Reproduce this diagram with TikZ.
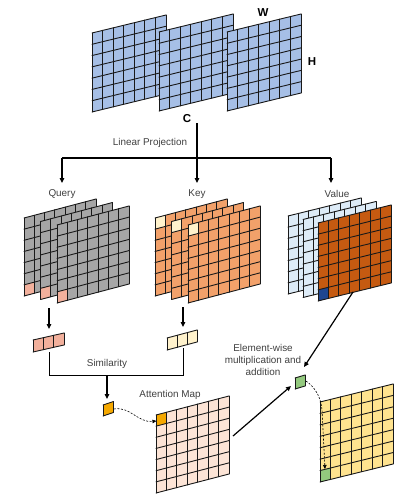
\documentclass[tikz,border=0pt]{standalone}
\usepackage{fontspec}
\setmainfont{Liberation Sans}
\usetikzlibrary{arrows.meta}
\definecolor{gblue}{HTML}{A6BFE6}
\definecolor{ggray}{HTML}{A6A6A6}
\definecolor{gpink}{HTML}{F2B09C}
\definecolor{gorange}{HTML}{F2A16A}
\definecolor{gcream}{HTML}{FFF2CC}
\definecolor{glblue}{HTML}{DDEBF7}
\definecolor{gbrown}{HTML}{C55A11}
\definecolor{gdblue}{HTML}{1F4690}
\definecolor{gattn}{HTML}{FCE4D6}
\definecolor{ggold}{HTML}{F5A800}
\definecolor{gyellow}{HTML}{FFE38F}
\definecolor{ggreen}{HTML}{93C97E}
\definecolor{txtgray}{HTML}{404040}
\tikzset{
  gridat/.style n args={6}{shift={(#1,#2)}, x={({#3/#6*1pt},{#5/#6*1pt})}, y={(0pt,{-#4/7*1pt})}},
  gridline/.style={line width=0.9pt, draw=black!90, line cap=round},
  arr/.style={line width=1.2pt, -{Triangle[length=5pt,width=4.5pt]}},
  thinline/.style={line width=1pt},
  dasharr/.style={line width=0.6pt, dash pattern=on 2pt off 1.5pt, -{Triangle[length=4pt,width=3.5pt]}},
  lbl/.style={text=txtgray, font=\fontsize{9.9}{11.8}\selectfont, inner sep=0pt},
  big/.style={text=black, font=\fontsize{11.5}{13}\selectfont\bfseries, inner sep=0pt},
}
% grid: x0 y0 w h s fill extra
\newcommand\grid[7]{%
  \begin{scope}[gridat={#1}{#2}{#3}{#4}{#5}{7}]
    \fill[#6] (0,0) -- (7,0) -- (7,7) -- (0,7) -- cycle;
    #7
    \foreach \k in {0,...,7}{\draw[gridline] (\k,0) -- (\k,7); \draw[gridline] (0,\k) -- (7,\k);}
  \end{scope}}
\newcommand\gcell[3]{\fill[#3] (#1,#2) -- ++(1,0) -- ++(0,1) -- ++(-1,0) -- cycle;}
% strip: x0 y0 w h s n fill
\newcommand\strip[7]{%
  \begin{scope}[shift={(#1,#2)}, x={({#3/#6*1pt},{#5/#6*1pt})}, y={(0pt,{-#4*1pt})}]
    \fill[#7] (0,0) -- (#6,0) -- (#6,1) -- (0,1) -- cycle;
    \foreach \k in {0,...,#6}{\draw[gridline] (\k,0) -- (\k,1);}
    \draw[gridline] (0,0) -- (#6,0) (0,1) -- (#6,1);
  \end{scope}}
\begin{document}
\begin{tikzpicture}[x=1pt,y=-1pt]
\useasboundingbox (0,0) rectangle (409,500);
\fill[white] (0,0) rectangle (409,500);

% top input tensor
\grid{92}{33}{74}{79}{18}{gblue}{}
\grid{159}{32}{74}{79}{18}{gblue}{}
\grid{227}{32}{74}{79}{18}{gblue}{}
\node[big] (W) at (263,13) {W};
\node[big] (H) at (312,62) {H};
\node[big] (C) at (187,119) {C};

% linear projection
\coordinate (cTop) at (197,123);
\coordinate (cMid) at (197,158);
\coordinate (keyTip) at (197,183);
\coordinate (hL) at (62,158);
\coordinate (hR) at (331,158);
\coordinate (qTip) at (62,183);
\coordinate (vTip) at (331,183);
\draw[arr] (cTop) -- (keyTip);
\draw[line width=1.2pt] (hL) -- (hR);
\draw[arr] (hL) -- (qTip);
\draw[arr] (hR) -- (vTip);
\node[lbl] (lp) at (150,143) {Linear Projection};

\node[lbl] (query) at (62,194) {Query};
\node[lbl] (key) at (197,194) {Key};
\node[lbl] (value) at (337,194) {Value};

% query stack
\grid{24}{218}{72}{78}{19}{ggray}{\gcell{0}{6}{gpink}}
\grid{40.5}{221.5}{72}{78}{19}{ggray}{\gcell{0}{6}{gpink}}
\grid{57}{225}{72}{78}{19}{ggray}{\gcell{0}{6}{gpink}}
% key stack
\grid{155}{218}{72}{78}{19}{gorange}{\gcell{0}{0}{gcream}}
\grid{171.5}{221.5}{72}{78}{19}{gorange}{\gcell{0}{0}{gcream}}
\grid{188}{225}{72}{78}{19}{gorange}{\gcell{0}{0}{gcream}}
% value stack
\grid{288}{216}{73}{78}{18}{glblue}{}
\grid{303}{219.5}{73}{78}{18}{glblue}{}
\grid{318}{223}{73}{78}{18}{gbrown}{\gcell{0}{6}{gdblue}}

% query/key vectors
\coordinate (qA) at (49,308);
\coordinate (qB) at (49,329);
\coordinate (kA) at (183,307);
\coordinate (kB) at (183,327);
\draw[arr] (qA) -- (qB);
\draw[arr] (kA) -- (kB);
\strip{33}{340}{31}{12}{7}{3}{gpink}
\strip{167}{338}{30}{12}{8}{3}{gcream}

% similarity
\coordinate (sq) at (49,352);
\coordinate (sk) at (183,348);
\coordinate (sqb) at (49,375);
\coordinate (skb) at (183,375);
\coordinate (sm) at (107,375);
\coordinate (smTip) at (107,399);
\draw[thinline] (sq) -- (sqb) -- (skb) -- (sk);
\draw[arr] (sm) -- (smTip);
\node[lbl] (sim) at (107,364) {Similarity};

% orange score cell
\strip{103}{405}{10.5}{11}{3.5}{1}{ggold}
\coordinate (oc) at (114,409);
\coordinate (am) at (156.5,421);
\draw[dasharr] (oc) .. controls (130,406) and (138,423) .. (am);

% attention map
\grid{156}{415}{73}{78}{19}{gattn}{\gcell{0}{0}{ggold}}
\node[lbl] (attn) at (170,395) {Attention Map};

% element-wise
\strip{295}{378}{10}{11}{3}{1}{ggreen}
\coordinate (amR) at (233,436);
\coordinate (gIn1) at (291,386);
\coordinate (vOut) at (353,292);
\coordinate (gIn2) at (304,367);
\draw[arr] (amR) -- (gIn1);
\draw[arr] (vOut) -- (gIn2);
\node[lbl, align=center] (ew) at (263,360) {Element-wise\\multiplication and\\addition};

% output
\grid{320}{402}{73}{80}{18}{gyellow}{\gcell{0}{6}{ggreen}}
\coordinate (gOut) at (306,381);
\coordinate (outTip) at (325,469);
\draw[dasharr] (gOut) .. controls (316,388) and (321,398) .. (322,410) -- (outTip);
\end{tikzpicture}
\end{document}
